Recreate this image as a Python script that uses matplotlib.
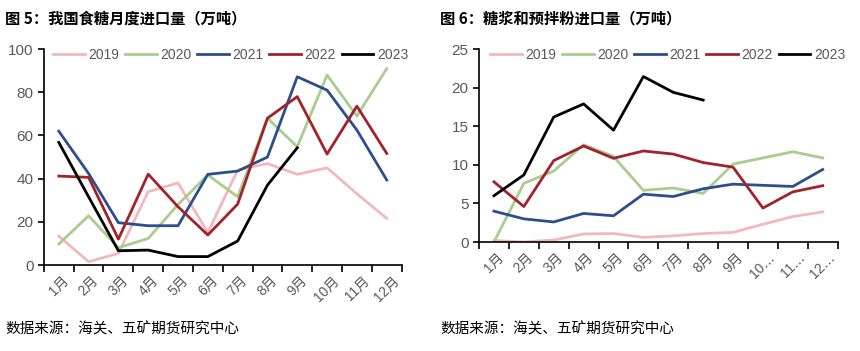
import matplotlib.pyplot as plt
import numpy as np

plt.rcParams['font.family'] = ['Liberation Sans', 'Noto Sans CJK SC', 'DejaVu Sans']

months = ['1月', '2月', '3月', '4月', '5月', '6月', '7月', '8月', '9月', '10月', '11月', '12月']
months_short = ['1月', '2月', '3月', '4月', '5月', '6月', '7月', '8月', '9月', '10…', '11…', '12…']
years = ['2019', '2020', '2021', '2022', '2023']
colors = ['#F2B8BB', '#A8CD8E', '#2D4E8C', '#A2222C', '#000000']

# 图5 食糖月度进口量
sugar_2019 = [13.4, 1.5, 5.4, 34, 38, 15, 44, 47, 42, 45, 33, 21.6]
sugar_2020 = [9.7, 22.8, 8, 12.3, 28, 41.7, 31.6, 68, 54.8, 88, 69, 91]
sugar_2021 = [62, 42.4, 19.6, 18.2, 18.2, 42, 43.5, 50, 87.2, 81, 62.5, 39.4]
sugar_2022 = [41.2, 40.6, 12, 42.1, 27, 13.9, 28.2, 68, 78, 51.4, 73.6, 51.7]
sugar_2023 = [56.8, 31.6, 6.6, 6.9, 3.9, 3.9, 11.1, 37, 54.3]

# 图6 糖浆和预拌粉进口量
syrup_2019 = [0.2, 0.0, 0.26, 1.04, 1.1, 0.6, 0.8, 1.1, 1.25, 2.3, 3.3, 3.9]
syrup_2020 = [0.0, 7.6, 9.2, 12.6, 11.1, 6.7, 7.0, 6.3, 10.1, 10.9, 11.7, 10.9]
syrup_2021 = [4.0, 3.0, 2.6, 3.7, 3.4, 6.2, 5.9, 6.9, 7.5, 7.35, 7.2, 9.4]
syrup_2022 = [7.8, 4.6, 10.55, 12.45, 10.85, 11.8, 11.4, 10.3, 9.7, 4.4, 6.5, 7.3]
syrup_2023 = [6.0, 8.7, 16.2, 17.9, 14.5, 21.45, 19.4, 18.4]

gray = '#595959'
cjk = ['Noto Sans CJK SC', 'DejaVu Sans']


def draw(ax, series, labels, ymax, ystep, leg_x):
    for vals, lab, c in zip(series, years, colors):
        ax.plot(np.arange(len(vals)), vals, color=c, lw=2, label=lab)
    ax.set_xlim(-0.5, 11.5)
    ax.set_ylim(0, ymax)
    ax.set_yticks(np.arange(0, ymax + 1, ystep))
    ax.set_xticks(np.arange(12))
    ax.set_xticklabels(labels, rotation=45, color=gray, fontsize=10)
    ax.set_xticks(np.arange(-0.5, 12, 1), minor=True)
    ax.tick_params(axis='x', which='major', length=0, pad=6)
    ax.tick_params(axis='x', which='minor', length=5, width=1.2, direction='out')
    ax.tick_params(axis='y', labelsize=11, labelcolor=gray, length=4, width=1.2)
    for s in ['top', 'right']:
        ax.spines[s].set_visible(False)
    for s in ['left', 'bottom']:
        ax.spines[s].set_linewidth(1.2)
    leg = ax.legend(loc='upper left', ncol=5, frameon=False, fontsize=10,
                    handlelength=2.3, columnspacing=0.4, handletextpad=0.25,
                    borderpad=0, borderaxespad=0,
                    bbox_to_anchor=(leg_x / 860, 1 - 48 / 351),
                    bbox_transform=fig.transFigure)
    for t in leg.get_texts():
        t.set_color(gray)


fig = plt.figure(figsize=(8.6, 3.51), dpi=100)
ax1 = fig.add_axes([0.051, 0.245, 0.416, 0.615])
ax2 = fig.add_axes([0.557, 0.3105, 0.417, 0.5495])

draw(ax1, [sugar_2019, sugar_2020, sugar_2021, sugar_2022, sugar_2023], months, 100, 20, 53)
draw(ax2, [syrup_2019, syrup_2020, syrup_2021, syrup_2022, syrup_2023], months_short, 25, 5, 490)

fig.text(0.006, 0.948, '图 5：我国食糖月度进口量（万吨）', fontsize=11, fontweight='bold',
         va='center', family=cjk)
fig.text(0.512, 0.948, '图 6：糖浆和预拌粉进口量（万吨）', fontsize=11, fontweight='bold',
         va='center', family=cjk)
fig.text(0.006, 0.062, '数据来源：海关、五矿期货研究中心', fontsize=10.5, va='center', family=cjk)
fig.text(0.512, 0.062, '数据来源：海关、五矿期货研究中心', fontsize=10.5, va='center', family=cjk)

fig.savefig('out.png', dpi=100)
